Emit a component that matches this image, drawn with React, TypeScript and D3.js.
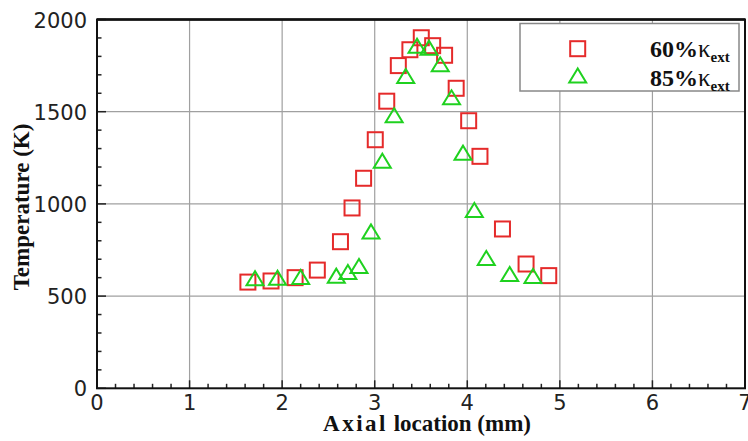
import React from "react";
import * as d3 from "d3";

// 60% kappa_ext (red squares)
const redX = [1.63, 1.88, 2.14, 2.38, 2.63, 2.755, 2.88, 3.006, 3.13, 3.255, 3.38, 3.503, 3.626, 3.755, 3.88, 4.015, 4.137, 4.38, 4.635, 4.88];
const redT = [576, 582, 600, 641, 795, 978, 1139, 1348, 1557, 1750, 1836, 1901, 1858, 1806, 1627, 1451, 1258, 864, 674, 611];

// 85% kappa_ext (green triangles)
const greenX = [1.707, 1.95, 2.2, 2.585, 2.71, 2.83, 2.96, 3.082, 3.21, 3.335, 3.457, 3.586, 3.708, 3.83, 3.954, 4.076, 4.205, 4.458, 4.71];
const greenT = [597, 600, 604, 611, 631, 663, 851, 1234, 1481, 1694, 1858, 1847, 1757, 1578, 1278, 967, 707, 620, 609];

const xTicks = [0, 1, 2, 3, 4, 5, 6, 7];
const yTicks = [0, 500, 1000, 1500, 2000];

const RED = "#e52a2a";
const GREEN = "#1fd11f";

const left = 97, right = 745, top = 19.5, bottom = 388.3;

function tri(cx: number, cy: number) {
  const w = 17, h = 14;
  return `M${cx},${cy - h / 2}L${cx - w / 2},${cy + h / 2}L${cx + w / 2},${cy + h / 2}Z`;
}

export default function App() {
  const x = d3.scaleLinear().domain([0, 7]).range([left, right]);
  const y = d3.scaleLinear().domain([0, 2000]).range([bottom, top]);

  const xMinor = d3.range(0, 7.001, 0.2).filter(v => Math.abs(v - Math.round(v)) > 0.01);
  const yMinor = d3.range(0, 2001, 100).filter(v => v % 500 !== 0);

  const tickFont = "DejaVu Sans, sans-serif";
  const serif = "Liberation Serif, Times New Roman, serif";

  return (
    <svg width={748} height={441} style={{ position: "absolute", left: 0, top: 0, background: "#fff" }}>
      {/* grid */}
      <g stroke="#a0a0a0" strokeWidth={1.2}>
        {xTicks.slice(1, -1).map(t => (
          <line key={"gx" + t} x1={x(t)} x2={x(t)} y1={top} y2={bottom} />
        ))}
        {yTicks.slice(1, -1).map(t => (
          <line key={"gy" + t} x1={left} x2={right} y1={y(t)} y2={y(t)} />
        ))}
      </g>

      {/* ticks */}
      <g stroke="#222" strokeWidth={1.5}>
        {xTicks.map(t => (
          <line key={"tx" + t} x1={x(t)} x2={x(t)} y1={bottom} y2={bottom - 8} />
        ))}
        {xMinor.map(t => (
          <line key={"mx" + t} x1={x(t)} x2={x(t)} y1={bottom} y2={bottom - 4.5} />
        ))}
        {yTicks.map(t => (
          <line key={"ty" + t} x1={left} x2={left + 9} y1={y(t)} y2={y(t)} />
        ))}
        {yMinor.map(t => (
          <line key={"my" + t} x1={left} x2={left + 4.5} y1={y(t)} y2={y(t)} />
        ))}
      </g>

      {/* frame */}
      <rect x={left} y={top} width={right - left} height={bottom - top} fill="none" stroke="#111" strokeWidth={2} />
      <line x1={left} x2={right} y1={top} y2={top} stroke="#111" strokeWidth={2.6} />

      {/* tick labels */}
      <g fontFamily={tickFont} fontSize={21} fill="#222">
        {xTicks.map(t => (
          <text key={"lx" + t} x={x(t)} y={bottom + 22} textAnchor="middle">{t}</text>
        ))}
        {yTicks.map(t => (
          <text key={"ly" + t} x={left - 10} y={y(t) + 8} textAnchor="end">{t}</text>
        ))}
      </g>

      {/* axis titles */}
      <text x={427} y={430.5} textAnchor="middle" fontFamily={serif} fontWeight="bold" fontSize={23} fill="#111">
        <tspan letterSpacing={2.5}>Axial</tspan> location (mm)
      </text>
      <text transform="translate(29,207) rotate(-90)" textAnchor="middle" fontFamily={serif} fontWeight="bold" fontSize={23} fill="#111">
        Temperature (K)
      </text>

      {/* data */}
      <g fill="none" stroke={RED} strokeWidth={2}>
        {redX.map((v, i) => (
          <rect key={"r" + i} x={x(v) - 7.5} y={y(redT[i]) - 7.5} width={15} height={15} />
        ))}
      </g>
      <g fill="none" stroke={GREEN} strokeWidth={2}>
        {greenX.map((v, i) => (
          <path key={"g" + i} d={tri(x(v), y(greenT[i]))} />
        ))}
      </g>

      {/* legend */}
      <rect x={520} y={23.5} width={219} height={67.5} fill="#fff" stroke="#888" strokeWidth={1.5} />
      <rect x={577.7 - 7.5} y={48.7 - 7.5} width={15} height={15} fill="none" stroke={RED} strokeWidth={2} />
      <path d={tri(577.7, 75.5)} fill="none" stroke={GREEN} strokeWidth={2} />
      <g fontFamily={serif} fill="#111">
        <text x={650} y={57} fontSize={24} fontWeight="bold">
          60%<tspan fontWeight="normal" fontSize={25}>κ</tspan><tspan fontSize={15} fontWeight="bold" dy={5}>ext</tspan>
        </text>
        <text x={650} y={85.5} fontSize={24} fontWeight="bold">
          85%<tspan fontWeight="normal" fontSize={25}>κ</tspan><tspan fontSize={15} fontWeight="bold" dy={5}>ext</tspan>
        </text>
      </g>
    </svg>
  );
}
